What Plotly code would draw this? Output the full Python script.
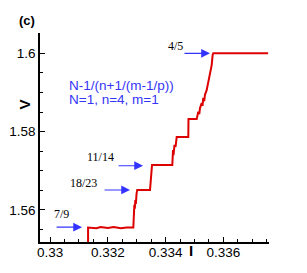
import plotly.graph_objects as go

# Red trace (I, V)
I_vals = [0.331315, 0.331315, 0.33160, 0.33175, 0.33200, 0.33220, 0.33245, 0.33265,
          0.332882, 0.332900, 0.332917, 0.332934, 0.332951, 0.332969, 0.332993, 0.333017,
          0.333460, 0.333529, 0.334232, 0.334256, 0.334273, 0.334308, 0.334343, 0.334384,
          0.334785, 0.334792, 0.335076, 0.335131, 0.335166, 0.335190, 0.335225, 0.335249,
          0.335277, 0.335304, 0.335335, 0.335363, 0.335421, 0.335477, 0.335536, 0.335595,
          0.335629, 0.335650, 0.337550]
V_vals = [1.5510, 1.5555, 1.5553, 1.5556, 1.5554, 1.5556, 1.5553, 1.5555,
          1.5555, 1.5587, 1.5613, 1.5603, 1.5625, 1.5615, 1.5641, 1.5651,
          1.5651, 1.5715, 1.5715, 1.5753, 1.5740, 1.5766, 1.5761, 1.5786,
          1.5786, 1.5832, 1.5832, 1.5851, 1.5845, 1.5860, 1.5866, 1.5873,
          1.5866, 1.5886, 1.5878, 1.5894, 1.5906, 1.5928, 1.5950, 1.5970,
          1.5996, 1.6000, 1.6000]

# Arrow annotations
arrow_labels = ["4/5", "11/14", "18/23", "7/9"]
arrow_tail_x = [0.334602, 0.332318, 0.331834, 0.330173]
arrow_tip_x = [0.335536, 0.333218, 0.332768, 0.331107]
arrow_y = [1.6000, 1.5713, 1.5651, 1.5556]
label_x = [0.334325, 0.331730, 0.331142, 0.330381]
label_y = [1.60194, 1.57353, 1.56696, 1.55897]

x_ticks = [0.330, 0.332, 0.334, 0.336]
x_ticktext = ["0.33", "0.332", "0.334", "0.336"]
y_ticks = [1.56, 1.58, 1.60]
y_ticktext = ["1.56", "1.58", "1.6"]

fig = go.Figure()
fig.add_trace(go.Scatter(x=I_vals, y=V_vals, mode="lines",
                         line=dict(color="#dd0000", width=2), showlegend=False))

annotations = []
for lab, tx, hx, ay, lx, ly in zip(arrow_labels, arrow_tail_x, arrow_tip_x, arrow_y, label_x, label_y):
    annotations.append(dict(x=hx, y=ay, ax=tx, ay=ay, xref="x", yref="y", axref="x", ayref="y",
                            text="", showarrow=True, arrowhead=2, arrowsize=1.6, arrowwidth=1.1,
                            arrowcolor="#3333ff"))
    annotations.append(dict(x=lx, y=ly, xref="x", yref="y", text=lab, showarrow=False,
                            font=dict(family="Liberation Serif", size=12, color="black")))

blue_font = dict(family="Liberation Sans", size=13.5, color="#3535f8")
annotations += [
    dict(x=0.118, y=0.751, xref="paper", yref="paper", text="N-1/(n+1/(m-1/p))",
         showarrow=False, xanchor="left", yanchor="middle", font=blue_font),
    dict(x=0.118, y=0.684, xref="paper", yref="paper", text="N=1, n=4, m=1",
         showarrow=False, xanchor="left", yanchor="middle", font=blue_font),
    dict(x=-0.1026, y=1.104, xref="paper", yref="paper", text="<b>(c)</b>",
         showarrow=False, font=dict(family="Liberation Sans", size=13, color="black")),
    dict(x=-0.1135, y=0.689, xref="paper", yref="paper", text="<b>V</b>", textangle=-90,
         showarrow=False, font=dict(family="Liberation Sans", size=15, color="black")),
    dict(x=0.677, y=-0.092, xref="paper", yref="paper", text="<b>I</b>",
         showarrow=False, font=dict(family="Liberation Sans", size=15, color="black")),
]

axis_common = dict(showgrid=False, zeroline=False, showline=True, linecolor="black", linewidth=1.5,
                   ticks="inside", ticklen=5, tickwidth=1, tickcolor="black",
                   tickfont=dict(family="Liberation Sans", size=13.5, color="black"),
                   mirror=False, automargin=False)

# page body has an 8px default margin, so the figure is 8px smaller and shifted
fig.update_layout(
    template="none",
    width=299, height=265,
    margin=dict(l=32, r=38, t=25, b=31, autoexpand=False),
    paper_bgcolor="white", plot_bgcolor="white",
    xaxis=dict(range=[0.32965, 0.33758], tickvals=x_ticks, ticktext=x_ticktext,
               ticklabelstandoff=-3,
               minor=dict(dtick=0.0005, tick0=0.33, ticks="inside", ticklen=3, tickcolor="black"),
               **axis_common),
    yaxis=dict(range=[1.5518, 1.6052], tickvals=y_ticks, ticktext=y_ticktext,
               minor=dict(dtick=0.005, tick0=1.56, ticks="inside", ticklen=3, tickcolor="black"),
               **axis_common),
    annotations=annotations,
)

fig.write_html("out.html")
